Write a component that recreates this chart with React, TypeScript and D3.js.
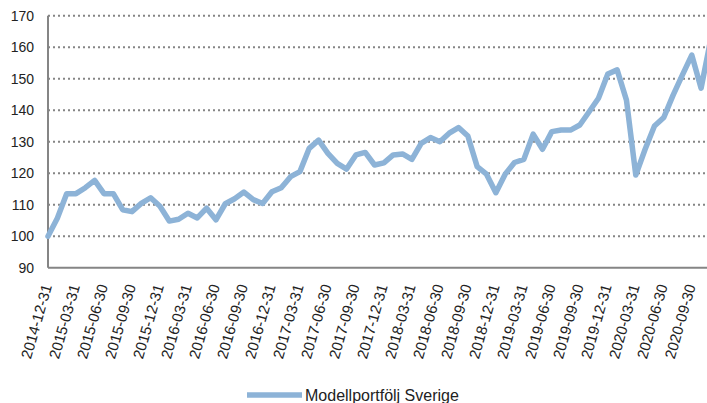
import React from "react";
import * as d3 from "d3";

const values: number[] = [
  100, 105.7, 113.5, 113.5, 115.4, 117.7, 113.5, 113.5, 108.4, 107.8, 110.4, 112.2,
  109.5, 104.8, 105.4, 107.3, 105.8, 108.9, 105.2, 110.3, 111.9, 114, 111.6, 110.4,
  114.1, 115.4, 118.9, 120.5, 127.9, 130.5, 126.3, 123.1, 121.3, 125.8, 126.6, 122.6,
  123.3, 125.8, 126.1, 124.4, 129.5, 131.3, 130, 132.7, 134.5, 131.8, 122.1, 119.7,
  113.8, 119.7, 123.4, 124.4, 132.4, 127.6, 133.2, 133.7, 133.7, 135.3, 139.5, 143.8,
  151.5, 152.8, 143.2, 119.4, 127.6, 135, 137.7, 144.8, 151.2, 157.5, 147, 162,
];

const tickLabels: string[] = [
  "2014-12-31", "2015-03-31", "2015-06-30", "2015-09-30", "2015-12-31",
  "2016-03-31", "2016-06-30", "2016-09-30", "2016-12-31", "2017-03-31",
  "2017-06-30", "2017-09-30", "2017-12-31", "2018-03-31", "2018-06-30",
  "2018-09-30", "2018-12-31", "2019-03-31", "2019-06-30", "2019-09-30",
  "2019-12-31", "2020-03-31", "2020-06-30", "2020-09-30",
];

const yTicks: number[] = [90, 100, 110, 120, 130, 140, 150, 160, 170];
const seriesName = "Modellportfölj Sverige";

const W = 707;
const H = 403;
const left = 48;
const right = 707;
const top = 15.7;
const bottom = 267.7;
const step = 9.33;
const lineColor = "#8db3d7";
const gridColor = "#858585";
const font = "'Liberation Sans', Arial, sans-serif";

export default function App() {
  const x = d3.scaleLinear().domain([0, values.length - 1]).range([left, left + step * (values.length - 1)]);
  const y = d3.scaleLinear().domain([90, 170]).range([bottom, top]);
  const line = d3
    .line<number>()
    .x((_, i) => x(i))
    .y((d) => y(d))
    .curve(d3.curveLinear);

  return (
    <svg
      width={W}
      height={H}
      style={{ position: "absolute", left: 0, top: 0, background: "#fff" }}
      fontFamily={font}
    >
      {yTicks.slice(1).map((t) => (
        <line
          key={"g" + t}
          x1={left}
          x2={right}
          y1={y(t)}
          y2={y(t)}
          stroke={gridColor}
          strokeWidth={2}
          strokeDasharray="2,3"
        />
      ))}
      {yTicks.map((t) => (
        <text key={"y" + t} x={34} y={y(t)} dy="0.36em" textAnchor="end" fontSize={14} fill="#222">
          {t}
        </text>
      ))}
      <line x1={left} x2={left} y1={top} y2={bottom} stroke={gridColor} strokeWidth={2} />
      <line x1={left} x2={right} y1={bottom} y2={bottom} stroke={gridColor} strokeWidth={2} />
      <path
        d={line(values) || ""}
        fill="none"
        stroke={lineColor}
        strokeWidth={5.5}
        strokeLinejoin="round"
        strokeLinecap="round"
      />
      {tickLabels.map((lab, k) => {
        const px = x(k * 3) + 4;
        const py = 286;
        return (
          <text
            key={lab}
            x={px}
            y={py}
            textAnchor="end"
            fontSize={15}
            fill="#222"
            transform={`rotate(-74, ${px}, ${py})`}
          >
            {lab}
          </text>
        );
      })}
      <line x1={247} x2={302} y1={395} y2={395} stroke={lineColor} strokeWidth={5.5} />
      <text x={305} y={400.5} fontSize={16} fill="#222">
        {seriesName}
      </text>
    </svg>
  );
}
